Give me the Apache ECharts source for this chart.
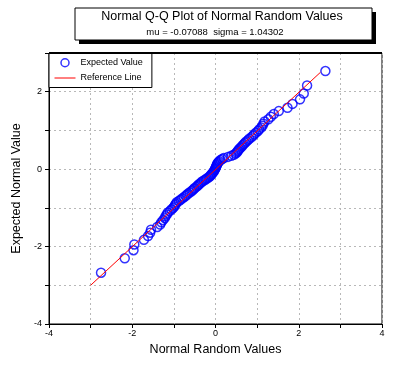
<!DOCTYPE html>
<html>
<head>
<meta charset="utf-8">
<script src="https://cdn.jsdelivr.net/npm/echarts@6/dist/echarts.min.js"></script>
<style>html,body{margin:0;padding:0;background:#fff}#c{width:401px;height:366px}</style>
</head>
<body>
<div id="c"></div>
<script>
// Observed (normal random) values, x axis
const normalRandomValues = [
-2.75,-2.18,-1.97,-1.95,-1.72,-1.62,-1.57,-1.55,-1.40,-1.33,
-1.30,-1.26,-1.22,-1.20,-1.17,-1.15,-1.10,-1.06,-1.02,-0.99,
-0.97,-0.95,-0.93,-0.88,-0.84,-0.80,-0.76,-0.72,-0.69,-0.66,
-0.62,-0.58,-0.55,-0.52,-0.50,-0.46,-0.43,-0.41,-0.38,-0.35,
-0.32,-0.28,-0.24,-0.21,-0.17,-0.14,-0.12,-0.10,-0.08,-0.06,
-0.04,-0.03,-0.01,0.00,0.01,0.02,0.03,0.04,0.05,0.07,
0.09,0.12,0.16,0.20,0.30,0.38,0.44,0.48,0.51,0.53,
0.55,0.57,0.60,0.63,0.65,0.68,0.71,0.74,0.78,0.81,
0.86,0.90,0.93,0.97,1.02,1.05,1.10,1.13,1.15,1.18,
1.27,1.33,1.40,1.52,1.73,1.85,2.03,2.12,2.20,2.64
];
// Expected normal values, y axis
const expectedNormalValues = [
-2.675,-2.302,-2.094,-1.945,-1.827,-1.728,-1.641,-1.565,-1.495,-1.431,
-1.373,-1.317,-1.266,-1.217,-1.170,-1.126,-1.084,-1.042,-1.003,-0.965,
-0.927,-0.891,-0.856,-0.822,-0.789,-0.756,-0.724,-0.693,-0.662,-0.632,
-0.602,-0.573,-0.543,-0.514,-0.486,-0.458,-0.430,-0.403,-0.376,-0.348,
-0.321,-0.294,-0.268,-0.241,-0.215,-0.189,-0.163,-0.137,-0.111,-0.084,
-0.058,-0.031,-0.005,0.021,0.047,0.073,0.099,0.126,0.152,0.179,
0.206,0.234,0.261,0.288,0.316,0.344,0.372,0.401,0.431,0.460,
0.490,0.520,0.551,0.582,0.614,0.647,0.680,0.714,0.749,0.785,
0.823,0.861,0.900,0.942,0.985,1.028,1.075,1.124,1.175,1.231,
1.289,1.353,1.423,1.499,1.586,1.685,1.803,1.952,2.160,2.533
];
// Reference line endpoints
const refLineX = [-3.0, 2.52];
const refLineY = [-3.0, 2.50];
const xTickLabels = [-4, -2, 0, 2, 4];
const yTickLabels = [-4, -2, 0, 2];
const titleText = 'Normal Q-Q Plot of Normal Random Values';
const subTitleText = 'mu = -0.07088  sigma = 1.04302';

const font = 'Arial, "Liberation Sans", sans-serif';
const chart = echarts.init(document.getElementById('c'), null, {renderer: 'canvas'});
const pts = normalRandomValues.map((x, i) => [x, expectedNormalValues[i]]);
const refPts = refLineX.map((x, i) => [x, refLineY[i]]);

const axisCommon = {
  interval: 1,
  axisLine: {show: true, onZero: false, lineStyle: {color: '#000', width: 1}},
  axisTick: {show: true, inside: false, length: 4, lineStyle: {color: '#000'}},
  splitLine: {show: true, lineStyle: {color: '#b8b8b8', type: [2, 3], width: 1}},
  axisLabel: {color: '#000', fontSize: 9, fontFamily: font},
  nameTextStyle: {color: '#000', fontSize: 12.5, fontFamily: font}
};

chart.setOption({
  animation: false,
  backgroundColor: '#fff',
  grid: {left: 49, right: 19, top: 53, bottom: 42, show: true, borderColor: '#000', borderWidth: 1, backgroundColor: 'transparent'},
  xAxis: Object.assign({}, axisCommon, {
    type: 'value', min: -4, max: 4,
    name: 'Normal Random Values', nameLocation: 'middle', nameGap: 15,
    axisLabel: Object.assign({}, axisCommon.axisLabel, {
      margin: 5,
      formatter: v => xTickLabels.includes(v) ? String(v) : ''
    })
  }),
  yAxis: Object.assign({}, axisCommon, {
    type: 'value', min: -4, max: 3,
    name: 'Expected Normal Value', nameLocation: 'middle', nameGap: 23,
    axisLabel: Object.assign({}, axisCommon.axisLabel, {
      margin: 7,
      formatter: v => yTickLabels.includes(v) ? String(v) : ''
    })
  }),
  legend: {
    left: 49, top: 53, orient: 'vertical',
    backgroundColor: '#fff', borderColor: '#000', borderWidth: 1, borderRadius: 0,
    padding: [5, 9, 5, 5], itemGap: 6, itemWidth: 21, itemHeight: 8,
    textStyle: {fontSize: 9, fontFamily: font, color: '#000'},
    data: [
      {name: 'Expected Value', icon: 'circle', itemStyle: {color: '#fff', borderColor: '#0000ff', borderWidth: 1.5}},
      {name: 'Reference Line', itemStyle: {opacity: 0}, lineStyle: {color: '#ff0000', width: 1}}
    ]
  },
  graphic: [
    {type: 'rect', shape: {x: 79, y: 12, width: 297, height: 32}, style: {fill: '#000'}, z: 100},
    {type: 'rect', shape: {x: 75, y: 8, width: 297, height: 32}, style: {fill: '#fff', stroke: '#000', lineWidth: 1}, z: 101},
    {type: 'text', x: 222, y: 17, style: {text: titleText, fill: '#000', font: '12.5px ' + font, textAlign: 'center', textVerticalAlign: 'middle'}, z: 102},
    {type: 'text', x: 215, y: 32, style: {text: subTitleText, fill: '#000', font: '9.5px ' + font, textAlign: 'center', textVerticalAlign: 'middle'}, z: 102},
    {type: 'rect', shape: {x: 49, y: 52, width: 333, height: 2}, style: {fill: '#000'}, z: 50}
  ],
  series: [
    {
      name: 'Expected Value', type: 'scatter', data: pts,
      symbol: 'circle', symbolSize: 9,
      itemStyle: {color: 'rgba(255,255,255,0)', borderColor: '#0000ff', borderWidth: 1.5},
      z: 3
    },
    {
      name: 'Reference Line', type: 'line', data: refPts,
      symbol: 'none', lineStyle: {color: '#ff0000', width: 1}, itemStyle: {color: '#ff0000'},
      z: 4
    }
  ]
});
</script>
</body>
</html>
